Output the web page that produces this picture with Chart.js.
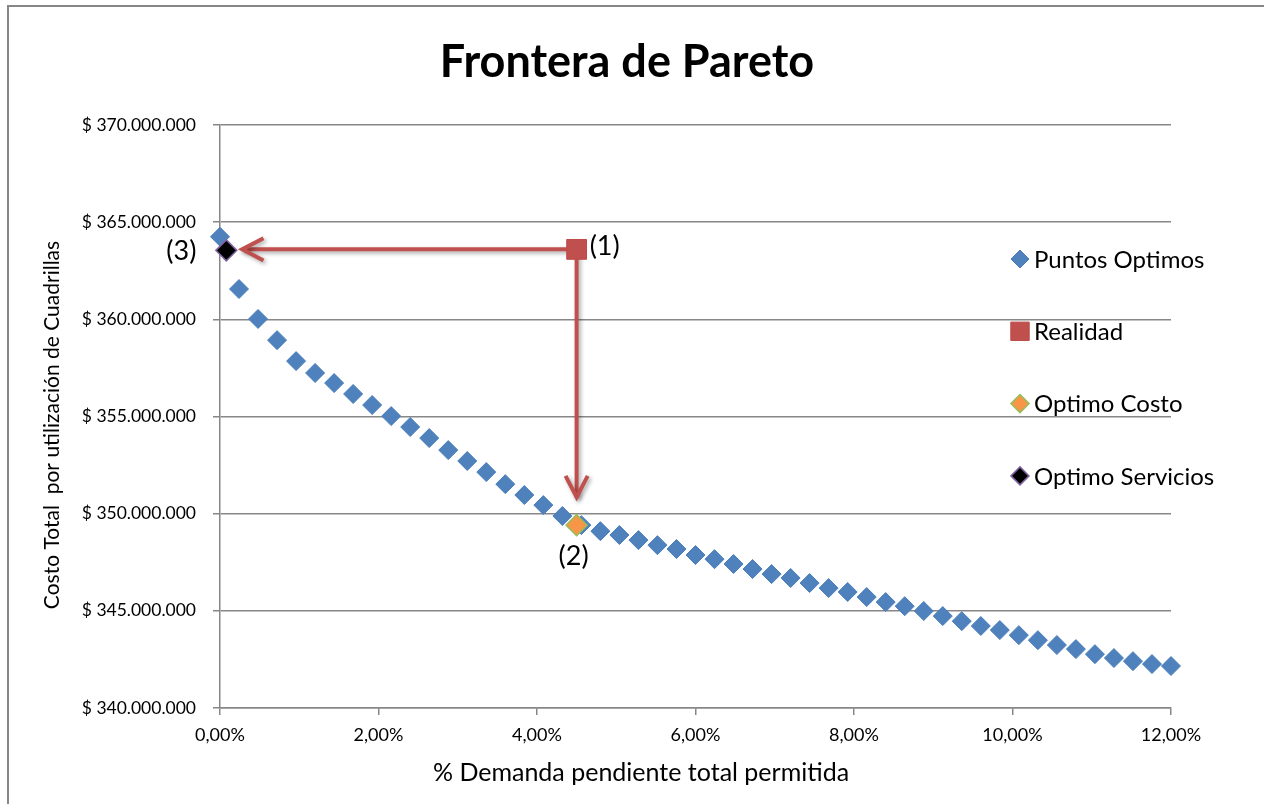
<!DOCTYPE html>
<html lang="es">
<head>
<meta charset="utf-8">
<title>Frontera de Pareto</title>
<script src="https://cdn.jsdelivr.net/npm/chart.js@4.4.1/dist/chart.umd.min.js"></script>
<style>
  html, body { margin: 0; padding: 0; background: #ffffff; }
  #wrap { position: relative; width: 1264px; height: 804px; overflow: hidden; }
  #marco { position: absolute; left: 7px; top: 5px; width: 1300px; height: 900px;
           border: 2px solid #878787; box-sizing: border-box; pointer-events: none; }
  canvas { position: absolute; left: 0; top: 0; }
</style>
</head>
<body>
<div id="wrap">
  <canvas id="grafico" width="1264" height="804"></canvas>
  <div id="marco"></div>
</div>
<script>
// % de demanda pendiente permitida (fracción) para cada punto óptimo
const pctDemanda = [
  0.0000, 0.0024, 0.0048, 0.0072, 0.0096, 0.0120, 0.0144, 0.0168, 0.0192, 0.0216,
  0.0240, 0.0264, 0.0288, 0.0312, 0.0336, 0.0360, 0.0384, 0.0408, 0.0432, 0.0456,
  0.0480, 0.0504, 0.0528, 0.0552, 0.0576, 0.0600, 0.0624, 0.0648, 0.0672, 0.0696,
  0.0720, 0.0744, 0.0768, 0.0792, 0.0816, 0.0840, 0.0864, 0.0888, 0.0912, 0.0936,
  0.0960, 0.0984, 0.1008, 0.1032, 0.1056, 0.1080, 0.1104, 0.1128, 0.1152, 0.1176,
  0.1200
];

// Costo total por utilización de cuadrillas ($) de cada punto óptimo
const costoTotal = [
  364250000, 361560000, 360020000, 358930000, 357850000, 357240000, 356720000, 356160000, 355590000, 355020000,
  354460000, 353890000, 353270000, 352710000, 352140000, 351520000, 350960000, 350440000, 349880000, 349410000,
  349100000, 348900000, 348640000, 348380000, 348180000, 347870000, 347660000, 347410000, 347150000, 346890000,
  346690000, 346430000, 346170000, 345970000, 345710000, 345450000, 345240000, 344990000, 344730000, 344470000,
  344220000, 344010000, 343750000, 343490000, 343240000, 343030000, 342770000, 342570000, 342410000, 342260000,
  342160000
];

// Situación real y los dos óptimos extremos
const realidadPct = [0.0450];
const realidadCosto = [363600000];
const optimoCostoPct = [0.0450];
const optimoCostoCosto = [349410000];
const optimoServiciosPct = [0.0008];
const optimoServiciosCosto = [363550000];

// Marcas de los ejes
const ticksY = [340000000, 345000000, 350000000, 355000000, 360000000, 365000000, 370000000];
const ticksX = [0, 0.02, 0.04, 0.06, 0.08, 0.10, 0.12];

// Flechas: desde la realidad hacia cada óptimo (coordenadas de datos)
const flechas = [
  { desde: [realidadPct[0], realidadCosto[0]], hasta: [0.0028, realidadCosto[0]] },
  { desde: [realidadPct[0], realidadCosto[0]], hasta: [realidadPct[0], 350850000] }
];

const FUENTE = 'Lato, "Open Sans", sans-serif';
const GRIS = '#878787';
const ROJO = '#C0504D';

const puntos = (xs, ys) => xs.map((x, i) => ({ x: x, y: ys[i] }));

function formatoPesos(v) {
  return '$ ' + Math.round(v).toString().replace(/\B(?=(\d{3})+(?!\d))/g, '.');
}
function formatoPct(v) {
  return (v * 100).toFixed(2).replace('.', ',') + '%';
}

// Flechas rojas con sombra, dibujadas bajo los marcadores
const pluginFlechas = {
  id: 'flechas',
  beforeDatasetsDraw(chart) {
    const { ctx, scales: { x, y } } = chart;
    ctx.save();
    ctx.strokeStyle = ROJO;
    ctx.lineWidth = 4;
    ctx.lineCap = 'butt';
    ctx.lineJoin = 'miter';
    ctx.shadowColor = 'rgba(0,0,0,0.35)';
    ctx.shadowBlur = 4;
    ctx.shadowOffsetX = 2;
    ctx.shadowOffsetY = 2;
    flechas.forEach(f => {
      const x0 = x.getPixelForValue(f.desde[0]), y0 = y.getPixelForValue(f.desde[1]);
      const x1 = x.getPixelForValue(f.hasta[0]), y1 = y.getPixelForValue(f.hasta[1]);
      const ang = Math.atan2(y1 - y0, x1 - x0);
      const largo = 24, abre = 0.48;
      ctx.beginPath();
      ctx.moveTo(x0, y0);
      ctx.lineTo(x1, y1);
      ctx.stroke();
      ctx.beginPath();
      ctx.moveTo(x1 - largo * Math.cos(ang - abre), y1 - largo * Math.sin(ang - abre));
      ctx.lineTo(x1, y1);
      ctx.lineTo(x1 - largo * Math.cos(ang + abre), y1 - largo * Math.sin(ang + abre));
      ctx.stroke();
    });
    ctx.restore();
  }
};

// Dibuja un marcador con el estilo de su serie
function marcador(ctx, ds, px, py) {
  const r = ds.pointRadius;
  ctx.save();
  ctx.fillStyle = ds.backgroundColor;
  ctx.strokeStyle = ds.borderColor;
  ctx.lineWidth = ds.borderWidth;
  ctx.beginPath();
  if (ds.pointStyle === 'rect') {
    const s = r * Math.SQRT1_2;
    ctx.rect(px - s, py - s, 2 * s, 2 * s);
  } else {
    ctx.moveTo(px - r, py);
    ctx.lineTo(px, py - r);
    ctx.lineTo(px + r, py);
    ctx.lineTo(px, py + r);
    ctx.closePath();
  }
  ctx.fill();
  if (ds.borderWidth > 0) ctx.stroke();
  ctx.restore();
}

// Títulos, leyenda y rótulos (1), (2), (3)
const pluginTextos = {
  id: 'textos',
  afterDraw(chart) {
    const { ctx, scales: { x, y } } = chart;
    ctx.save();
    ctx.fillStyle = '#000000';

    ctx.font = 'bold 45px ' + FUENTE;
    ctx.textAlign = 'center';
    ctx.textBaseline = 'middle';
    ctx.fillText('Frontera de Pareto', 627, 62);

    ctx.font = '25px ' + FUENTE;
    ctx.fillText('% Demanda pendiente total permitida', 641, 773);

    ctx.save();
    ctx.translate(52, 425);
    ctx.rotate(-Math.PI / 2);
    ctx.font = '21px ' + FUENTE;
    ctx.fillText('Costo Total  por utilización de Cuadrillas', 0, 0);
    ctx.restore();

    // Leyenda vertical a la derecha
    const ordenLeyenda = [0, 1, 2, 3];
    ctx.font = '24px ' + FUENTE;
    ctx.textAlign = 'left';
    ordenLeyenda.forEach((k, i) => {
      const ds = chart.data.datasets[k];
      const ly = 259 + i * 72.3;
      marcador(ctx, Object.assign({}, ds, { pointRadius: ds.legendRadius }), 1020, ly);
      ctx.fillStyle = '#000000';
      ctx.fillText(ds.label, 1034, ly + 1);
    });

    // Rótulos de los puntos destacados
    ctx.font = '27px ' + FUENTE;
    const pR = [x.getPixelForValue(realidadPct[0]), y.getPixelForValue(realidadCosto[0])];
    const pC = [x.getPixelForValue(optimoCostoPct[0]), y.getPixelForValue(optimoCostoCosto[0])];
    const pS = [x.getPixelForValue(optimoServiciosPct[0]), y.getPixelForValue(optimoServiciosCosto[0])];
    ctx.textAlign = 'left';
    ctx.fillText('(1)', pR[0] + 13, pR[1] - 3);
    ctx.textAlign = 'center';
    ctx.fillText('(2)', pC[0] - 3, pC[1] + 31);
    ctx.textAlign = 'right';
    ctx.fillText('(3)', pS[0] - 30, pS[1] + 1);
    ctx.restore();
  }
};

new Chart(document.getElementById('grafico'), {
  type: 'scatter',
  data: {
    datasets: [
      {
        label: 'Puntos Optimos',
        data: puntos(pctDemanda, costoTotal),
        pointStyle: 'rectRot',
        pointRadius: 9.5,
        legendRadius: 9,
        backgroundColor: '#4F81BD',
        borderColor: '#4A7EBB',
        borderWidth: 1,
        clip: false,
        order: 3
      },
      {
        label: 'Realidad',
        data: puntos(realidadPct, realidadCosto),
        pointStyle: 'rect',
        pointRadius: 14,
        legendRadius: 13,
        backgroundColor: '#C0504D',
        borderColor: '#BE4B48',
        borderWidth: 1,
        clip: false,
        order: 2
      },
      {
        label: 'Optimo Costo',
        data: puntos(optimoCostoPct, optimoCostoCosto),
        pointStyle: 'rectRot',
        pointRadius: 10.5,
        legendRadius: 9,
        backgroundColor: '#F79646',
        borderColor: '#9BBB59',
        borderWidth: 1.5,
        clip: false,
        order: 1
      },
      {
        label: 'Optimo Servicios',
        data: puntos(optimoServiciosPct, optimoServiciosCosto),
        pointStyle: 'rectRot',
        pointRadius: 10.5,
        legendRadius: 9,
        backgroundColor: '#000000',
        borderColor: '#8064A2',
        borderWidth: 1.5,
        clip: false,
        order: 0
      }
    ]
  },
  options: {
    responsive: false,
    animation: false,
    events: [],
    layout: { padding: { left: 10, right: 93, top: 125, bottom: 0 } },
    plugins: {
      legend: { display: false },
      tooltip: { enabled: false },
      title: { display: false }
    },
    scales: {
      x: {
        type: 'linear',
        min: 0,
        max: 0.12,
        afterFit(s) { s.height = 96; },
        afterBuildTicks(s) { s.ticks = ticksX.map(v => ({ value: v })); },
        ticks: {
          callback: v => formatoPct(v),
          color: '#000000',
          font: { family: FUENTE, size: 18 },
          padding: 9,
          maxRotation: 0
        },
        grid: { display: true, drawOnChartArea: false, drawTicks: true, tickLength: 7, color: GRIS, lineWidth: 1.5 },
        border: { display: true, color: GRIS, width: 1.5 }
      },
      y: {
        type: 'linear',
        min: 340000000,
        max: 370000000,
        afterFit(s) { s.width = 210; },
        afterBuildTicks(s) { s.ticks = ticksY.map(v => ({ value: v })); },
        ticks: {
          callback: v => formatoPesos(v),
          color: '#000000',
          font: { family: FUENTE, size: 17.5 },
          padding: 17
        },
        grid: { color: GRIS, lineWidth: 1.5, tickLength: 7, drawTicks: true },
        border: { display: true, color: GRIS, width: 1.5 }
      }
    }
  },
  plugins: [pluginFlechas, pluginTextos]
});
</script>
</body>
</html>
